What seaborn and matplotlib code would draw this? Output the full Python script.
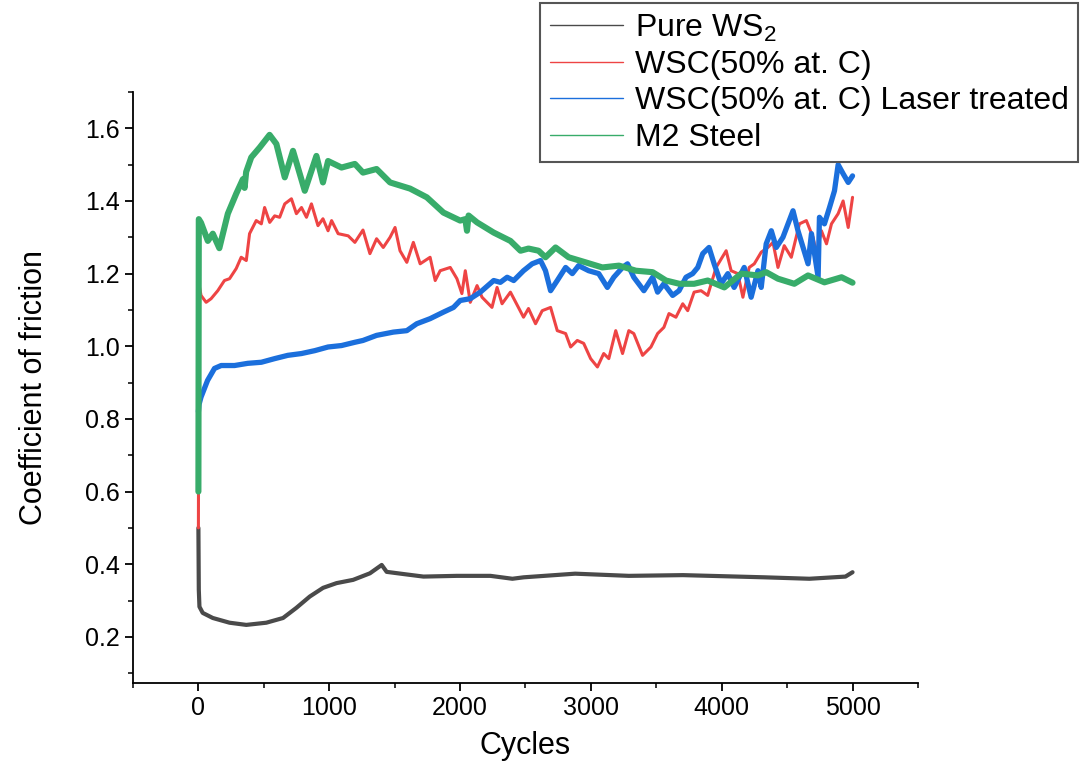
import matplotlib
matplotlib.use("Agg")
import matplotlib.pyplot as plt
import seaborn as sns
import pandas as pd
from matplotlib.ticker import MultipleLocator

# ---- data ----
labels = ["Pure WS$_2$", "WSC(50% at. C)", "WSC(50% at. C) Laser treated", "M2 Steel"]

ws2_x = [0, 3, 8, 33, 110, 238, 366, 519, 647, 749, 851, 953, 1056, 1183, 1311, 1401, 1439,
         1567, 1720, 1976, 2232, 2400, 2487, 2880, 3290, 3704, 4325, 4670, 4946, 5000]
ws2_y = [0.50, 0.33, 0.283, 0.266, 0.252, 0.239, 0.233, 0.239, 0.252, 0.28, 0.311, 0.335, 0.348,
         0.357, 0.375, 0.398, 0.379, 0.373, 0.366, 0.368, 0.368, 0.36, 0.364, 0.374, 0.368, 0.37,
         0.364, 0.36, 0.366, 0.378]

wsc_x = [0, 4, 20, 59, 97, 148, 199, 238, 289, 327, 366, 391, 442, 481, 506, 545, 583, 621, 660,
         711, 749, 788, 826, 864, 914, 952, 991, 1018, 1068, 1145, 1196, 1258, 1311, 1362, 1413,
         1465, 1503, 1541, 1593, 1643, 1695, 1771, 1810, 1848, 1925, 1976, 2014, 2040, 2078, 2130,
         2168, 2244, 2283, 2321, 2385, 2446, 2485, 2523, 2577, 2628, 2692, 2743, 2807, 2845, 2896,
         2945, 2998, 3050, 3098, 3137, 3190, 3242, 3290, 3328, 3395, 3459, 3510, 3558, 3597, 3650,
         3702, 3740, 3789, 3842, 3893, 3957, 4034, 4072, 4123, 4162, 4210, 4249, 4302, 4353, 4392,
         4430, 4478, 4532, 4594, 4647, 4698, 4724, 4762, 4801, 4839, 4890, 4928, 4967, 5000]
wsc_y = [0.50, 1.172, 1.14, 1.121, 1.131, 1.153, 1.181, 1.186, 1.214, 1.245, 1.236, 1.31, 1.346,
         1.337, 1.382, 1.341, 1.359, 1.355, 1.392, 1.406, 1.365, 1.382, 1.355, 1.392, 1.332, 1.351,
         1.318, 1.346, 1.31, 1.304, 1.286, 1.32, 1.255, 1.296, 1.272, 1.3, 1.327, 1.263, 1.231,
         1.286, 1.227, 1.245, 1.181, 1.208, 1.217, 1.186, 1.145, 1.208, 1.121, 1.167, 1.135, 1.107,
         1.162, 1.117, 1.149, 1.107, 1.08, 1.104, 1.062, 1.098, 1.107, 1.043, 1.035, 0.998, 1.016,
         1.008, 0.966, 0.943, 0.98, 0.966, 1.043, 0.98, 1.043, 1.035, 0.975, 0.998, 1.035, 1.052,
         1.09, 1.08, 1.117, 1.098, 1.149, 1.153, 1.14, 1.217, 1.263, 1.208, 1.2, 1.135, 1.217,
         1.227, 1.259, 1.272, 1.286, 1.217, 1.277, 1.245, 1.337, 1.346, 1.3, 1.255, 1.318, 1.282,
         1.337, 1.365, 1.4, 1.327, 1.41]

laser_x = [0, 5, 20, 70, 123, 174, 276, 377, 481, 583, 683, 788, 890, 991, 1094, 1196, 1258, 1362,
           1490, 1593, 1669, 1771, 1873, 1950, 2001, 2078, 2155, 2257, 2308, 2360, 2410, 2485, 2551,
           2615, 2653, 2692, 2743, 2807, 2858, 2906, 2983, 3060, 3126, 3175, 3242, 3280, 3328, 3405,
           3472, 3510, 3558, 3625, 3674, 3727, 3778, 3817, 3855, 3903, 3942, 3995, 4047, 4095, 4172,
           4225, 4277, 4302, 4340, 4379, 4417, 4468, 4507, 4545, 4583, 4622, 4660, 4686, 4737, 4747,
           4785, 4824, 4862, 4890, 4928, 4967, 5000]
laser_y = [0.82, 0.84, 0.86, 0.906, 0.939, 0.947, 0.947, 0.953, 0.956, 0.966, 0.975, 0.98, 0.988,
           0.998, 1.002, 1.011, 1.016, 1.03, 1.039, 1.043, 1.062, 1.076, 1.094, 1.107, 1.126, 1.131,
           1.149, 1.181, 1.176, 1.19, 1.181, 1.208, 1.227, 1.236, 1.208, 1.153, 1.181, 1.217, 1.2,
           1.222, 1.208, 1.2, 1.162, 1.19, 1.217, 1.227, 1.19, 1.153, 1.19, 1.149, 1.172, 1.14,
           1.153, 1.19, 1.2, 1.217, 1.255, 1.272, 1.227, 1.172, 1.2, 1.162, 1.217, 1.135, 1.208,
           1.162, 1.282, 1.318, 1.272, 1.3, 1.337, 1.373, 1.318, 1.272, 1.227, 1.31, 1.19, 1.355,
           1.337, 1.382, 1.428, 1.50, 1.475, 1.451, 1.469]

m2_x = [0, 3, 20, 72, 110, 160, 225, 289, 340, 353, 365, 404, 468, 544, 596, 660, 723, 813, 902,
        952, 991, 1094, 1196, 1258, 1362, 1465, 1618, 1746, 1873, 2001, 2040, 2053, 2065, 2130,
        2257, 2385, 2462, 2523, 2600, 2653, 2730, 2830, 2960, 3088, 3215, 3344, 3472, 3574, 3676,
        3789, 3893, 4020, 4149, 4277, 4340, 4430, 4555, 4660, 4785, 4916, 5000]
m2_y = [0.60, 1.35, 1.34, 1.29, 1.31, 1.27, 1.365, 1.42, 1.46, 1.436, 1.48, 1.52, 1.547, 1.582,
        1.557, 1.465, 1.538, 1.428, 1.524, 1.451, 1.51, 1.492, 1.502, 1.478, 1.488, 1.451, 1.434,
        1.41, 1.368, 1.346, 1.35, 1.318, 1.36, 1.341, 1.313, 1.29, 1.263, 1.269, 1.263, 1.245,
        1.272, 1.245, 1.231, 1.217, 1.222, 1.208, 1.204, 1.181, 1.172, 1.172, 1.181, 1.162, 1.2,
        1.195, 1.204, 1.186, 1.172, 1.195, 1.176, 1.19, 1.175]

colors = ["#4a4a4a", "#ee4444", "#1b6fdc", "#38ac6a"]
widths = [3.0, 2.2, 3.8, 4.4]

# ---- plot ----
sns.set_theme(style="ticks")
plt.rcParams["font.family"] = ["Liberation Sans", "DejaVu Sans"]
plt.rcParams["mathtext.default"] = "regular"
plt.rcParams["text.color"] = "black"
plt.rcParams["axes.labelcolor"] = "black"

fig = plt.figure(figsize=(10.83, 7.64), dpi=100)
ax = fig.add_axes([0.1228, 0.106, 0.7248, 0.7736])

series = [(ws2_x, ws2_y), (wsc_x, wsc_y), (laser_x, laser_y), (m2_x, m2_y)]
for (xs, ys), lab, c, lw in zip(series, labels, colors, widths):
    df = pd.DataFrame({"Cycles": xs, "COF": ys})
    sns.lineplot(data=df, x="Cycles", y="COF", ax=ax, color=c, linewidth=lw,
                 label=lab, estimator=None, sort=False)

ax.set_xlim(-500, 5500)
ax.set_ylim(0.073, 1.70)
ax.xaxis.set_major_locator(MultipleLocator(1000))
ax.xaxis.set_minor_locator(MultipleLocator(500))
ax.yaxis.set_major_locator(MultipleLocator(0.2))
ax.yaxis.set_minor_locator(MultipleLocator(0.1))
ax.yaxis.set_major_formatter(matplotlib.ticker.FormatStrFormatter("%.1f"))

for s in ["top", "right"]:
    ax.spines[s].set_visible(False)
for s in ["left", "bottom"]:
    ax.spines[s].set_linewidth(1.3)
    ax.spines[s].set_color("black")

ax.tick_params(which="major", direction="out", length=6, width=1.3, labelsize=18,
               colors="black", labelcolor="black")
ax.tick_params(which="minor", direction="out", length=3.5, width=1.1, colors="black")

ax.set_xlabel("Cycles", fontsize=22, labelpad=8, color="black")
ax.set_ylabel("Coefficient of friction", fontsize=22, labelpad=26, color="black")

leg = ax.legend(loc="upper right", bbox_to_anchor=(1078 / 1083, 1 - 3 / 764),
                bbox_transform=fig.transFigure, borderaxespad=0, fontsize=23,
                frameon=True, fancybox=False, framealpha=1, edgecolor="#555555",
                handlelength=2.3, handletextpad=0.35, labelspacing=0.2, borderpad=0.3)
leg.get_frame().set_linewidth(1.5)
for ln in leg.get_lines():
    ln.set_linewidth(1.0)
for t in leg.get_texts():
    t.set_color("black")

fig.savefig("out.png", dpi=100)
